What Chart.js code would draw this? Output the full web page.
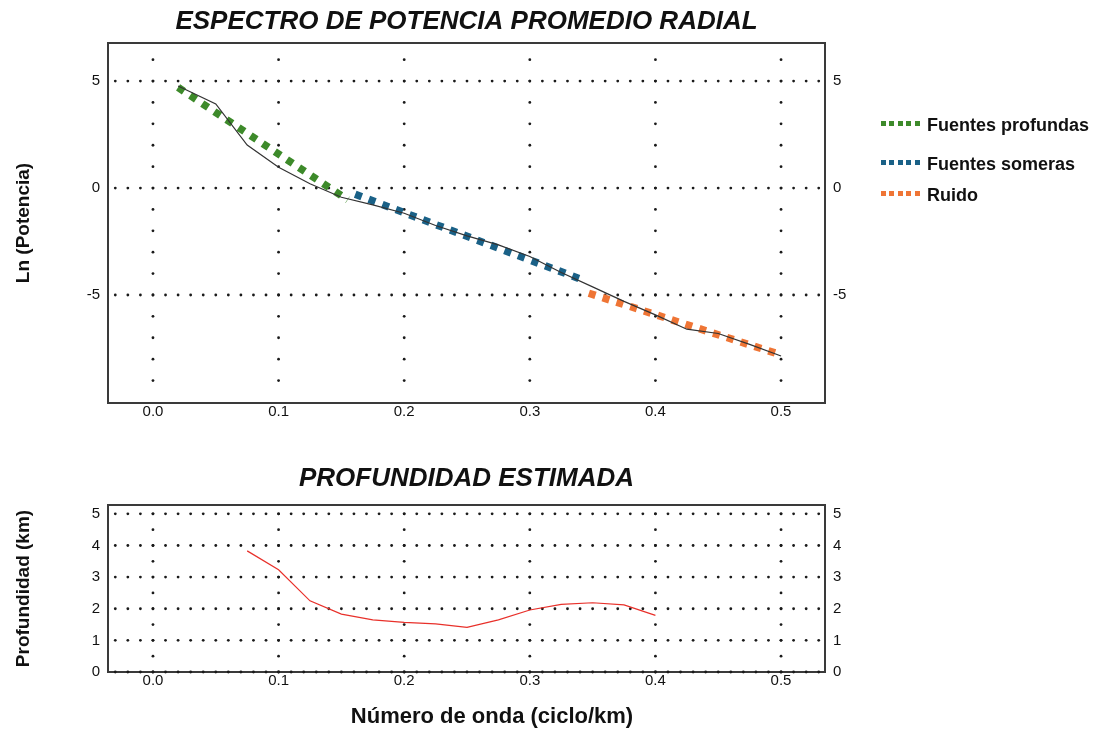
<!DOCTYPE html>
<html>
<head>
<meta charset="utf-8">
<script src="https://cdn.jsdelivr.net/npm/chart.js@4"></script>
<style>
  body { margin:0; background:#fff; width:1101px; height:729px; position:relative; overflow:hidden; font-family:"Liberation Sans", Arial, sans-serif; }
  canvas { position:absolute; left:0; }
  #spec { top:0; }
  #depth { top:440px; }
  .item { position:absolute; left:881px; height:22px; display:flex; align-items:center; font-weight:bold; font-size:18px; color:#111; white-space:nowrap; }
  .swatch { width:40px; height:5px; margin-right:6px; position:relative; top:-2px; }
</style>
</head>
<body>
<canvas id="spec" width="1101" height="440"></canvas>
<canvas id="depth" width="1101" height="289"></canvas>
<div class="item" style="top:114px"><span class="swatch" style="background:repeating-linear-gradient(to right,#3d8a2a 0 5px,transparent 5px 8.5px)"></span>Fuentes profundas</div>
<div class="item" style="top:153px"><span class="swatch" style="background:repeating-linear-gradient(to right,#1a6187 0 5px,transparent 5px 8.5px)"></span>Fuentes someras</div>
<div class="item" style="top:184px"><span class="swatch" style="background:repeating-linear-gradient(to right,#ef7535 0 5px,transparent 5px 8.5px)"></span>Ruido</div>
<script>
// spectrum (ln power) vs wavenumber
const specX = [0.02, 0.05, 0.075, 0.1, 0.125, 0.15, 0.175, 0.2, 0.225, 0.25, 0.275, 0.3, 0.325, 0.35, 0.375, 0.4, 0.425, 0.45, 0.475, 0.5];
const specY = [4.77, 3.93, 2.01, 0.97, 0.2, -0.43, -0.79, -1.18, -1.75, -2.24, -2.66, -3.2, -3.95, -4.62, -5.3, -5.93, -6.6, -6.8, -7.31, -7.85];

// fitted segments
const deepX = [0.02, 0.155];
const deepY = [4.7, -0.55];
const shallowX = [0.161, 0.341];
const shallowY = [-0.29, -4.27];
const noiseX = [0.347, 0.5];
const noiseY = [-4.92, -7.8];

// estimated depth
const depthX = [0.075, 0.1, 0.125, 0.15, 0.175, 0.2, 0.225, 0.25, 0.275, 0.3, 0.325, 0.35, 0.375, 0.4];
const depthY = [3.83, 3.23, 2.25, 1.83, 1.65, 1.57, 1.52, 1.41, 1.65, 1.96, 2.14, 2.19, 2.12, 1.79];

const xTicks = [0, 0.1, 0.2, 0.3, 0.4, 0.5];
const specTicks = [-5, 0, 5];
const depthTicks = [0, 1, 2, 3, 4, 5];

const X_MIN = -0.0358, X_MAX = 0.535;
const GREEN = '#3d8a2a', BLUE = '#1a6187', ORANGE = '#ef7535', RED = '#e8302a';

const pts = (xs, ys) => xs.map((x, i) => ({x: x, y: ys[i]}));
const fixTicks = vals => s => { s.ticks = vals.map(v => ({value: v})); };

Chart.defaults.font.family = '"Liberation Sans", Arial, sans-serif';
Chart.defaults.color = '#111';

// dotted grid + frame
const dotGrid = {
  id: 'dotGrid',
  beforeDatasetsDraw(chart, args, o) {
    const {ctx, chartArea: a, scales: {x, y}} = chart;
    ctx.save();
    ctx.strokeStyle = '#3a3a3a';
    ctx.lineWidth = 2;
    ctx.strokeRect(a.left, a.top, a.right - a.left, a.bottom - a.top);
    ctx.fillStyle = '#1a1a1a';
    const dot = (px, py) => { ctx.beginPath(); ctx.arc(px, py, 1.4, 0, Math.PI * 2); ctx.fill(); };
    o.hLines.forEach(v => {
      const py = y.getPixelForValue(v);
      for (let i = -3; i <= 53; i++) dot(x.getPixelForValue(i / 100), py);
    });
    o.vLines.forEach(v => {
      const px = x.getPixelForValue(v);
      for (let yy = o.vFrom; yy <= o.vTo + 1e-9; yy += o.vStep) dot(px, y.getPixelForValue(yy));
    });
    ctx.restore();
  }
};

const xTitle = {
  id: 'xTitle',
  afterDraw(chart) {
    const ctx = chart.ctx;
    ctx.save();
    ctx.font = 'bold 22px "Liberation Sans", Arial, sans-serif';
    ctx.fillStyle = '#111';
    ctx.textAlign = 'center';
    ctx.textBaseline = 'middle';
    ctx.fillText('Número de onda (ciclo/km)', 492, 277);
    ctx.restore();
  }
};

const tickFont = {size: 15};

function xScale(h, pad) {
  return {
    type: 'linear', min: X_MIN, max: X_MAX,
    afterBuildTicks: fixTicks(xTicks),
    ticks: {font: tickFont, padding: pad, maxRotation: 0, autoSkip: false, callback: v => v.toFixed(1)},
    grid: {display: false, drawTicks: false},
    border: {display: false},
    afterFit: s => { s.height = h; }
  };
}
function yScale(pos, min, max, vals, title, w) {
  return {
    type: 'linear', position: pos, min: min, max: max,
    afterBuildTicks: fixTicks(vals),
    ticks: {font: tickFont, padding: 8, callback: v => String(v)},
    grid: {display: false, drawTicks: false},
    border: {display: false},
    title: title ? {display: true, text: title, font: {size: 19, weight: 'bold'}, padding: {top: 12, bottom: 0}} : {display: false},
    afterFit: s => { s.width = w; }
  };
}

const fitLine = (label, xs, ys, color) => ({
  label: label, data: pts(xs, ys), borderColor: color, borderWidth: 7.5,
  borderDash: [7, 7.5], borderCapStyle: 'butt', pointRadius: 0, order: 1
});

new Chart(document.getElementById('spec'), {
  type: 'line',
  data: {
    datasets: [
      {label: 'Espectro', data: pts(specX, specY), borderColor: '#333', borderWidth: 1.2, pointRadius: 0, order: 0},
      fitLine('Fuentes profundas', deepX, deepY, GREEN),
      fitLine('Fuentes someras', shallowX, shallowY, BLUE),
      fitLine('Ruido', noiseX, noiseY, ORANGE)
    ]
  },
  options: {
    responsive: false,
    animation: false,
    layout: {padding: 0, autoPadding: false},
    scales: {
      x: xScale(37, 0),
      y: yScale('left', -10.05, 6.78, specTicks, 'Ln (Potencia)', 108),
      y2: yScale('right', -10.05, 6.78, specTicks, null, 276)
    },
    plugins: {
      legend: {display: false},
      tooltip: {enabled: false},
      title: {display: true, text: 'ESPECTRO DE POTENCIA PROMEDIO RADIAL', fullSize: false,
        font: {size: 26, weight: 'bold', style: 'italic'}, color: '#111', padding: {top: 6, bottom: 5.8}},
      dotGrid: {hLines: [5, 0, -5], vLines: xTicks, vFrom: -9, vTo: 6, vStep: 1}
    }
  },
  plugins: [dotGrid]
});

new Chart(document.getElementById('depth'), {
  type: 'line',
  data: {
    datasets: [
      {label: 'Profundidad', data: pts(depthX, depthY), borderColor: RED, borderWidth: 1.2, pointRadius: 0}
    ]
  },
  options: {
    responsive: false,
    animation: false,
    layout: {padding: 0, autoPadding: false},
    scales: {
      x: xScale(57, 0),
      y: yScale('left', 0, 5.28, depthTicks, 'Profundidad (km)', 108),
      y2: yScale('right', 0, 5.28, depthTicks, null, 276)
    },
    plugins: {
      legend: {display: false},
      tooltip: {enabled: false},
      title: {display: true, text: 'PROFUNDIDAD ESTIMADA', fullSize: false,
        font: {size: 26, weight: 'bold', style: 'italic'}, color: '#111', padding: {top: 23, bottom: 10.8}},
      dotGrid: {hLines: depthTicks, vLines: xTicks, vFrom: 0, vTo: 5, vStep: 0.5}
    }
  },
  plugins: [dotGrid, xTitle]
});
</script>
</body>
</html>
